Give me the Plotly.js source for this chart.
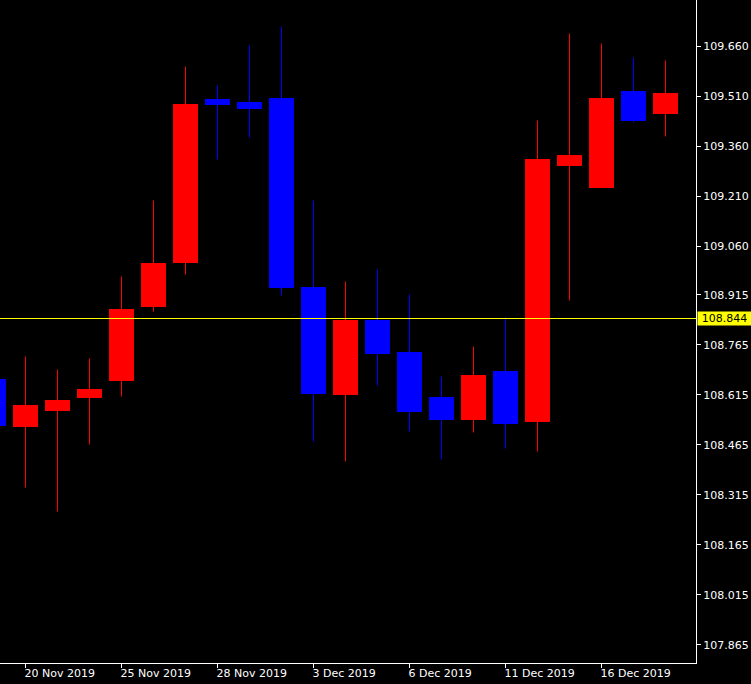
<!DOCTYPE html>
<html>
<head>
<meta charset="utf-8">
<script src="https://cdn.plot.ly/plotly-3.0.1.min.js"></script>
<style>html,body{margin:0;padding:0;background:#000;}#chart{width:751px;height:684px;}</style>
</head>
<body>
<div id="chart"></div>
<script>
const dates = ["19 Nov 2019","20 Nov 2019","21 Nov 2019","22 Nov 2019","25 Nov 2019","26 Nov 2019","27 Nov 2019","28 Nov 2019","29 Nov 2019","2 Dec 2019","3 Dec 2019","4 Dec 2019","5 Dec 2019","6 Dec 2019","9 Dec 2019","10 Dec 2019","11 Dec 2019","12 Dec 2019","13 Dec 2019","16 Dec 2019","17 Dec 2019","18 Dec 2019"];
const openP  = [108.664,108.520,108.568,108.607,108.658,108.880,109.012,109.504,109.495,109.507,108.940,108.616,108.841,108.745,108.610,108.541,108.688,108.535,109.303,109.237,109.528,109.459];
const highP  = [108.700,108.730,108.691,108.724,108.970,109.198,109.600,109.543,109.663,109.720,109.198,108.955,108.991,108.916,108.670,108.760,108.847,109.438,109.699,109.669,109.627,109.618];
const lowP   = [108.500,108.337,108.265,108.466,108.610,108.865,108.976,109.321,109.387,108.913,108.475,108.415,108.643,108.505,108.421,108.502,108.454,108.445,108.898,109.237,109.432,109.390];
const closeP = [108.523,108.586,108.601,108.634,108.874,109.012,109.489,109.486,109.474,108.937,108.619,108.841,108.739,108.565,108.541,108.676,108.529,109.324,109.336,109.507,109.438,109.522];
const xTickDates = ["20 Nov 2019","25 Nov 2019","28 Nov 2019","3 Dec 2019","6 Dec 2019","11 Dec 2019","16 Dec 2019"];
const yTicks = [107.865,108.015,108.165,108.315,108.465,108.615,108.765,108.915,109.060,109.210,109.360,109.510,109.660];
const topCutTick = 109.810;
const currentPrice = 108.844;

const UP = '#ff0000', DOWN = '#0000ff';
const isUp = openP.map((o,i)=>closeP[i] >= o);

function wicks(up){
  const x=[], y=[];
  dates.forEach((d,i)=>{ if(isUp[i]===up){ x.push(d,d,null); y.push(lowP[i],highP[i],null);} });
  return {type:'scatter', mode:'lines', x, y, line:{color: up?UP:DOWN, width:1}, hoverinfo:'skip', showlegend:false, connectgaps:false};
}
const bodies = {
  type:'bar', x: dates,
  base: openP.map((o,i)=>Math.min(o,closeP[i])),
  y: openP.map((o,i)=>Math.max(Math.abs(closeP[i]-o), 0.0005)),
  width: 0.78125,
  marker:{color: isUp.map(u=>u?UP:DOWN), line:{width:0}},
  showlegend:false, hoverinfo:'skip'
};

const font = {family:'DejaVu Sans', size:11, color:'#ffffff'};
const layout = {
  width:751, height:684,
  margin:{l:0, r:55, t:0, b:21, pad:0},
  paper_bgcolor:'#000000', plot_bgcolor:'#000000',
  font: font,
  showlegend:false,
  bargap:0,
  xaxis:{
    type:'category', categoryorder:'array', categoryarray: dates,
    range:[0.203125, 21.953125], fixedrange:true,
    showgrid:false, zeroline:false,
    showline:true, linecolor:'#ffffff', linewidth:1,
    ticks:'outside', ticklen:4, tickcolor:'#ffffff', tickwidth:1,
    tickvals: xTickDates, ticktext: xTickDates,
    ticklabelposition:'outside right', ticklabelshift:-2,
    tickfont: font
  },
  yaxis:{
    side:'right', range:[107.8105, 109.7995], fixedrange:true,
    showgrid:false, zeroline:false,
    showline:true, linecolor:'#ffffff', linewidth:1,
    ticks:'outside', ticklen:4, tickcolor:'#ffffff', tickwidth:1,
    tickvals: yTicks, ticktext: yTicks.map(v=>v.toFixed(3)),
    tickfont: font
  },
  shapes:[{type:'line', xref:'paper', x0:0, x1:1, yref:'y', y0:currentPrice, y1:currentPrice, line:{color:'#ffff00', width:1}}],
  annotations:[
    {xref:'paper', x:1, yref:'y', y:currentPrice, xanchor:'left', yanchor:'middle', xshift:1,
     text: currentPrice.toFixed(3), showarrow:false, bgcolor:'#ffff00', font:{family:'DejaVu Sans', size:11, color:'#000000'},
     width:53, height:13, borderpad:0, align:'center'},
    {xref:'paper', x:1, yref:'y', y:topCutTick, xanchor:'left', yanchor:'middle', xshift:6,
     text: topCutTick.toFixed(3), showarrow:false, font: font}
  ]
};
Plotly.newPlot('chart', [wicks(true), wicks(false), bodies], layout, {staticPlot:true, displayModeBar:false});
</script>
</body>
</html>
